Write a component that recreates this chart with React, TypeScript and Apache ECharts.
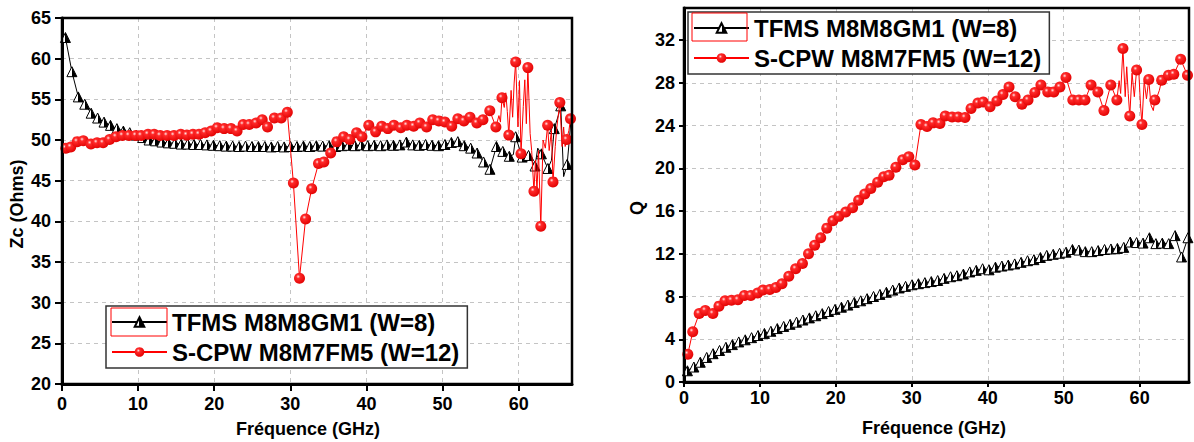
import React, { useEffect, useRef } from "react";
import * as echarts from "echarts";

const tfmsName = "TFMS M8M8GM1 (W=8)";
const scpwName = "S-CPW M8M7FM5 (W=12)";
const xTitle = "Fréquence (GHz)";
const zcTitle = "Zc (Ohms)";
const qTitle = "Q";

// tick values
const freqTicks = [0, 10, 20, 30, 40, 50, 60];
const zcTicks = [20, 25, 30, 35, 40, 45, 50, 55, 60, 65];
const qTicks = [0, 4, 8, 12, 16, 20, 24, 28, 32];

// TFMS marker frequencies (GHz)
const freqTfms = [
  0.45, 1.3, 2.14, 2.99, 3.83, 4.68, 5.52, 6.37, 7.21, 8.06,
  8.9, 9.75, 10.59, 11.44, 12.28, 13.13, 13.97, 14.82, 15.66, 16.51,
  17.35, 18.2, 19.04, 19.89, 20.73, 21.58, 22.42, 23.27, 24.11, 24.96,
  25.8, 26.65, 27.49, 28.34, 29.18, 30.03, 30.87, 31.72, 32.56, 33.41,
  34.25, 35.1, 35.94, 36.79, 37.63, 38.48, 39.32, 40.17, 41.01, 41.86,
  42.7, 43.55, 44.39, 45.24, 46.08, 46.93, 47.77, 48.62, 49.46, 50.31,
  51.15, 52.0, 52.84, 53.69, 54.53, 55.38, 56.22, 57.07, 57.91, 58.76,
  59.6, 60.45, 61.29, 62.14, 62.98, 63.83, 64.67, 65.52, 66.36,
];
const zcTfms = [
  62.6, 58.4, 55.3, 54.4, 53.3, 52.7, 52.2, 51.8, 51.4, 51.1,
  50.9, 50.6, 50.3, 50.0, 49.9, 49.75, 49.65, 49.6, 49.5, 49.5,
  49.45, 49.45, 49.4, 49.35, 49.3, 49.25, 49.25, 49.2, 49.25, 49.2,
  49.2, 49.2, 49.15, 49.2, 49.15, 49.2, 49.2, 49.25, 49.2, 49.3,
  49.25, 49.3, 49.2, 49.3, 49.35, 49.3, 49.4, 49.3, 49.35, 49.3,
  49.4, 49.35, 49.4, 49.75, 49.4, 49.35, 49.45, 49.35, 49.3, 49.45,
  49.7, 49.8, 49.3, 49.0, 48.4, 47.3, 46.4, 49.2, 48.6, 48.0,
  50.4, 47.9, 48.1, 46.8, 48.3, 46.5, 51.4, 54.2, 47.0,
];
const qTfms = [
  1.05, 1.4, 1.85, 2.3, 2.65, 2.95, 3.25, 3.5, 3.75, 3.95,
  4.15, 4.35, 4.55, 4.75, 5.0, 5.2, 5.4, 5.6, 5.8, 6.0,
  6.2, 6.4, 6.6, 6.8, 7.0, 7.2, 7.45, 7.6, 7.8, 8.0,
  8.2, 8.4, 8.6, 8.8, 8.95, 9.1, 9.2, 9.3, 9.4, 9.5,
  9.7, 9.85, 9.95, 10.1, 10.3, 10.45, 10.6, 10.5, 10.75, 10.85,
  10.95, 11.05, 11.2, 11.35, 11.45, 11.65, 11.85, 11.95, 12.05, 12.15,
  12.4, 12.35, 12.2, 12.2, 12.3, 12.4, 12.45, 12.5, 12.6, 13.1,
  13.05, 13.0, 13.5, 12.95, 13.0, 12.95, 13.7, 11.7, 13.5,
];

// S-CPW marker frequencies (GHz)
const freqScpw = [
  0.5, 1.15, 2.0, 2.8, 3.8, 4.6, 5.4, 6.25, 7.1, 7.95,
  8.8, 9.7, 10.4, 11.3, 12.1, 12.9, 13.8, 14.7, 15.6, 16.4,
  17.2, 18.0, 18.8, 19.6, 20.4, 21.3, 22.2, 23.0, 23.8, 24.6,
  25.5, 26.3, 27.0, 27.9, 28.8, 29.6, 30.4, 31.2, 32.0, 32.8,
  33.7, 34.4, 35.3, 36.1, 37.0, 37.8, 38.7, 39.4, 40.3, 41.2,
  42.0, 42.8, 43.6, 44.5, 45.3, 46.2, 47.0, 47.9, 48.7, 49.5,
  50.3, 51.2, 52.0, 52.8, 53.6, 54.5, 55.3, 56.2, 57.0, 57.8,
  58.7, 59.6, 60.3, 61.2, 62.0, 62.9, 63.8, 64.5, 65.4, 66.3,
  66.8,
];
const zcScpw = [
  49.0, 49.15, 49.8, 49.9, 49.5, 49.65, 49.65, 50.05, 50.4, 50.55,
  50.55, 50.55, 50.55, 50.7, 50.7, 50.55, 50.55, 50.55, 50.7, 50.6,
  50.7, 50.7, 50.9, 51.1, 51.5, 51.4, 51.4, 51.1, 51.9, 51.9,
  52.1, 52.5, 51.6, 52.7, 52.7, 53.4, 44.7, 33.0, 40.3, 44.0,
  47.1, 47.3, 48.4, 49.8, 50.4, 50.05, 50.9, 50.4, 51.8, 51.0,
  51.7, 51.4, 51.8, 51.5, 51.8, 51.7, 52.1, 51.6, 52.5, 52.35,
  52.2, 51.7, 52.6, 52.35, 52.8, 52.1, 52.5, 53.6, 51.6, 55.2,
  50.6, 59.6, 48.3, 58.9, 43.7, 39.4, 51.8, 44.85, 54.6, 50.05,
  52.6,
];
const qScpw = [
  2.6, 4.7, 6.4, 6.7, 6.4, 7.1, 7.6, 7.65, 7.7, 8.1,
  8.1, 8.33, 8.6, 8.65, 8.84, 9.2, 9.9, 10.6, 11.1, 12.0,
  12.8, 13.5, 14.4, 15.1, 15.5, 15.9, 16.3, 17.0, 17.6, 18.1,
  18.7, 19.2, 19.35, 20.1, 20.8, 21.07, 20.3, 24.1, 23.9, 24.25,
  24.2, 24.9, 24.8, 24.8, 24.75, 25.6, 26.1, 26.2, 25.75, 26.3,
  26.9, 27.6, 26.7, 26.0, 26.4, 27.1, 27.8, 27.15, 27.15, 27.6,
  28.5, 26.4, 26.4, 26.4, 27.8, 27.15, 25.4, 27.8, 26.4, 31.2,
  24.9, 29.2, 24.1, 28.3, 26.4, 28.25, 28.7, 28.8, 30.2, 28.7,
  29.2,
];

// Unmarked intermediate points (line only) in the noisy high-frequency range
const zcTfmsNoiseF = [59.3, 62.5, 64.3, 65.2, 65.9, 66.6, 66.9];
const zcTfmsNoiseV = [48.2, 49.0, 47.5, 53.0, 45.5, 49.5, 52.8];
const zcScpwNoiseF = [
  57.4, 57.6, 58.1, 58.3, 58.5, 59.0, 59.2, 59.4, 59.9, 60.1,
  60.6, 60.8, 61.0, 61.5, 61.7, 62.2, 62.4, 62.6, 63.2, 63.5,
  64.0, 64.3, 64.8, 65.0, 65.7, 65.9, 66.1, 66.6,
];
const zcScpwNoiseV = [
  53.0, 52.2, 54.0, 55.8, 53.5, 56.1, 52.8, 57.0, 51.6, 57.3,
  54.1, 57.4, 52.0, 50.8, 48.7, 47.5, 43.8, 48.7, 50.0, 49.0,
  48.7, 51.2, 49.2, 51.5, 49.2, 51.6, 49.2, 51.2,
];
const qTfmsNoiseF: number[] = [];
const qTfmsNoiseV: number[] = [];
const qScpwNoiseF = [57.3, 57.5, 58.1, 58.3, 58.5, 59.0, 59.3, 59.9, 60.1, 60.6, 60.9, 61.5, 61.8, 62.3, 62.6];
const qScpwNoiseV = [28.2, 27.0, 26.7, 29.5, 27.0, 28.9, 26.7, 28.9, 26.1, 28.2, 26.5, 25.9, 25.4, 26.7, 27.3];

const FONT = 'Arial, "Liberation Sans", Helvetica, sans-serif';

function build(f: number[], v: number[], nf: number[], nv: number[]) {
  const pts: any[] = f.map((x, i) => ({ value: [x, v[i]] }));
  const noise: any[] = nf.map((x, i) => ({ value: [x, nv[i]], symbol: "none" }));
  return pts.concat(noise).sort((a, b) => a.value[0] - b.value[0]);
}

export default function App() {
  const ref = useRef<HTMLDivElement>(null);
  useEffect(() => {
    const chart = echarts.init(ref.current!, null, { renderer: "svg" });

    const triFill = new echarts.graphic.LinearGradient(0, 0, 1, 0, [
      { offset: 0, color: "#ffffff" },
      { offset: 0.5, color: "#ffffff" },
      { offset: 0.5, color: "#000000" },
      { offset: 1, color: "#000000" },
    ]);
    const ballFill = new echarts.graphic.RadialGradient(0.38, 0.35, 0.7, [
      { offset: 0, color: "#ffe4e4" },
      { offset: 0.25, color: "#ff2a2a" },
      { offset: 1, color: "#e00000" },
    ]);

    const tfmsStyle = {
      type: "line",
      name: tfmsName,
      symbol: "triangle",
      symbolSize: 10,
      lineStyle: { color: "#000", width: 1 },
      itemStyle: { color: triFill, borderColor: "#000", borderWidth: 1 },
      emphasis: { disabled: true },
      z: 2,
    };
    const scpwStyle = {
      type: "line",
      name: scpwName,
      symbol: "circle",
      symbolSize: 11,
      lineStyle: { color: "#ff0000", width: 1 },
      itemStyle: { color: ballFill, borderWidth: 0 },
      emphasis: { disabled: true },
      z: 3,
    };

    const gridLine = { show: true, lineStyle: { type: [4, 4], color: "#c4c4c4", width: 1 } };

    const xAxisBase = (grid: number, max: number, margin: number, tick: number) => ({
      type: "value",
      gridIndex: grid,
      min: 0,
      max,
      interval: 10,
      axisLine: { show: true, onZero: false, lineStyle: { color: "#000", width: 3 } },
      axisTick: { show: true, length: tick, customValues: freqTicks, lineStyle: { color: "#000", width: 2 } },
      axisLabel: { margin, fontSize: 18, fontWeight: "bold", color: "#000", fontFamily: FONT, customValues: freqTicks },
      splitLine: gridLine,
    });
    const yAxisBase = (grid: number, min: number, max: number, interval: number, ticks: number[], margin: number, tick: number) => ({
      type: "value",
      gridIndex: grid,
      min,
      max,
      interval,
      axisLine: { show: true, onZero: false, lineStyle: { color: "#000", width: 3 } },
      axisTick: { show: true, length: tick, customValues: ticks, lineStyle: { color: "#000", width: 2 } },
      axisLabel: { margin, fontSize: 18, fontWeight: "bold", color: "#000", fontFamily: FONT, customValues: ticks },
      splitLine: gridLine,
    });

    const legendBase = (left: number, top: number) => ({
      left,
      top,
      orient: "vertical",
      data: [tfmsName, scpwName],
      itemWidth: 55,
      itemHeight: 12,
      itemGap: 6,
      padding: [4, 8, 4, 5],
      backgroundColor: "#fff",
      borderColor: "#333",
      borderWidth: 1.5,
      selectedMode: false,
      textStyle: { fontSize: 24, fontWeight: "bold", color: "#000", fontFamily: FONT },
    });

    const titleText = (text: string, x: number, y: number, rot = 0) => ({
      type: "text",
      x,
      y,
      rotation: rot,
      z: 20,
      style: {
        text,
        fill: "#000",
        fontSize: 18,
        fontWeight: "bold",
        fontFamily: FONT,
        align: "center",
        verticalAlign: "middle",
      },
    });

    const frame = (x: number, y: number, w: number, h: number) => ({
      type: "rect",
      z: 15,
      silent: true,
      shape: { x, y, width: w, height: h },
      style: { fill: "none", stroke: "#000", lineWidth: 2.5 },
    });

    const option: any = {
      animation: false,
      backgroundColor: "#fff",
      grid: [
        { left: 62, top: 18, width: 510, height: 366 },
        { left: 684, top: 8, width: 505, height: 374 },
      ],
      xAxis: [xAxisBase(0, 67, 11, 7), xAxisBase(1, 66.5, 7, 5)],
      yAxis: [yAxisBase(0, 20, 65, 5, zcTicks, 11, 7), yAxisBase(1, 0, 35, 4, qTicks, 9, 5)],
      legend: [legendBase(106, 306), legendBase(688, 12)],
      series: [
        { ...tfmsStyle, xAxisIndex: 0, yAxisIndex: 0, data: build(freqTfms, zcTfms, zcTfmsNoiseF, zcTfmsNoiseV) },
        { ...scpwStyle, xAxisIndex: 0, yAxisIndex: 0, data: build(freqScpw, zcScpw, zcScpwNoiseF, zcScpwNoiseV) },
        { ...tfmsStyle, xAxisIndex: 1, yAxisIndex: 1, data: build(freqTfms, qTfms, qTfmsNoiseF, qTfmsNoiseV) },
        { ...scpwStyle, xAxisIndex: 1, yAxisIndex: 1, data: build(freqScpw, qScpw, qScpwNoiseF, qScpwNoiseV) },
      ],
      graphic: [
        frame(62, 18, 510, 366),
        frame(684, 8, 505, 374),
        titleText(zcTitle, 17, 204, Math.PI / 2),
        titleText(xTitle, 308, 429),
        titleText(qTitle, 637, 208, Math.PI / 2),
        titleText(xTitle, 934, 428),
        { type: "rect", z: 20, shape: { x: 111, y: 308, width: 56, height: 28 }, style: { fill: "none", stroke: "#ff0000", lineWidth: 1 } },
        { type: "rect", z: 20, shape: { x: 692, y: 13, width: 55, height: 28 }, style: { fill: "none", stroke: "#ff0000", lineWidth: 1 } },
      ],
    };

    chart.setOption(option);
    return () => chart.dispose();
  }, []);

  return (
    <div
      ref={ref}
      style={{ position: "absolute", left: 0, top: 0, width: 1194, height: 442, background: "#fff" }}
    />
  );
}
